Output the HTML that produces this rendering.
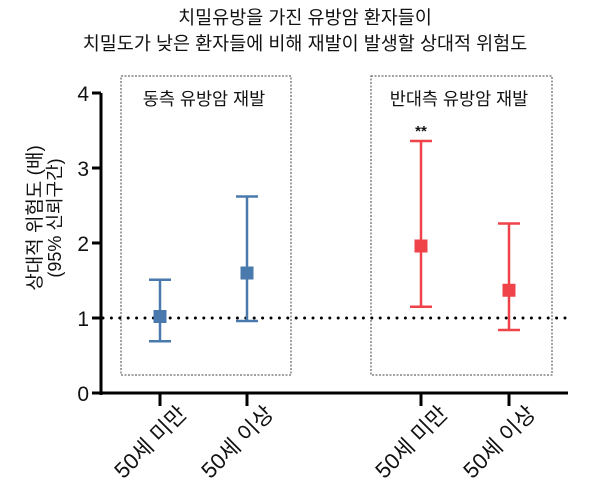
<!DOCTYPE html>
<html><head><meta charset="utf-8"><style>
body{margin:0;background:#fff;width:600px;height:493px;overflow:hidden}
svg text{font-family:"Liberation Sans","Noto Sans CJK KR",sans-serif}
</style></head><body>
<svg width="600" height="493" viewBox="0 0 600 493" xmlns="http://www.w3.org/2000/svg">
<text x="305" y="24" font-size="18.5" text-anchor="middle" fill="#111">치밀유방을 가진 유방암 환자들이</text>
<text x="305" y="50" font-size="18.5" text-anchor="middle" fill="#111">치밀도가 낮은 환자들에 비해 재발이 발생할 상대적 위험도</text>
<rect x="121" y="76" width="170" height="299" fill="none" stroke="#444" stroke-width="1" stroke-dasharray="2,1.5"/>
<rect x="371" y="76" width="181" height="299" fill="none" stroke="#444" stroke-width="1" stroke-dasharray="2,1.5"/>
<text x="204" y="105" font-size="17.5" text-anchor="middle" fill="#111">동측 유방암 재발</text>
<text x="459" y="105" font-size="17.5" text-anchor="middle" fill="#111">반대측 유방암 재발</text>
<text transform="translate(41,218) rotate(-90)" font-size="19" text-anchor="middle" fill="#111">상대적 위험도 (배)</text>
<text transform="translate(61,218) rotate(-90)" font-size="18" text-anchor="middle" fill="#111">(95% 신뢰구간)</text>
<g id="g"></g>
</svg>
<script>
const categories=["50세 미만","50세 이상","50세 미만","50세 이상"];
const groups=["ipsilateral","ipsilateral","contralateral","contralateral"];
const estimates=[1.02,1.6,1.96,1.37];
const lowerCI=[0.69,0.96,1.15,0.84];
const upperCI=[1.51,2.62,3.36,2.26];
const significance=["","","**",""];
const yTicks=[0,1,2,3,4];
const refValue=1;
const NS="http://www.w3.org/2000/svg";
const g=document.getElementById('g');
const y=v=>393-v*75;
const xPos=[160,247,421,509];
const x=i=>xPos[i];
const col=grp=>grp==="ipsilateral"?"#4a7aad":"#ef4349";
function mk(t,a){const e=document.createElementNS(NS,t);for(const k in a)e.setAttribute(k,a[k]);g.appendChild(e);return e;}
let e;
e=mk('line',{x1:101,y1:y(4),x2:101,y2:y(0)+2,stroke:'#000','stroke-width':3});


e=mk('line',{x1:92,y1:y(0),x2:568,y2:y(0),stroke:'#000','stroke-width':3});


yTicks.forEach(t=>{
 e=mk('line',{x1:92,y1:y(t),x2:101,y2:y(t),stroke:'#000','stroke-width':3});
 
 
 e=mk('text',{x:89,y:y(t)+8,'font-size':21,'text-anchor':'end',fill:'#111'});
 e.textContent=t;
 
 
});
e=mk('line',{x1:103,y1:y(refValue),x2:565,y2:y(refValue),stroke:'#000','stroke-width':3,'stroke-dasharray':'0,8.4','stroke-linecap':'round'});


categories.forEach((c,i)=>{
 const cx=x(i),cl=col(groups[i]);
 e=mk('line',{x1:cx,y1:y(0),x2:cx,y2:y(0)+13,stroke:'#000','stroke-width':3});
 
 
 e=mk('text',{transform:`translate(${cx+28},${y(0)+22}) rotate(-45)`,'font-size':22,'text-anchor':'end',fill:'#111'});
 e.textContent=c;
 
 
 e=mk('line',{x1:cx,y1:y(upperCI[i]),x2:cx,y2:y(lowerCI[i]),stroke:cl,'stroke-width':2.5});
 
 
 [upperCI[i],lowerCI[i]].forEach(v=>{
  e=mk('line',{x1:cx-11,y1:y(v),x2:cx+11,y2:y(v),stroke:cl,'stroke-width':2.5});
  
  
 });
 e=mk('rect',{x:cx-6.5,y:y(estimates[i])-6.5,width:13,height:13,fill:cl});
 
 
 if(significance[i]){
  e=mk('text',{x:cx,y:y(upperCI[i])-5,'font-size':15,'font-weight':'bold','text-anchor':'middle',fill:'#111'});
  e.textContent=significance[i];
  
  
 }
});
</script>
</body></html>
